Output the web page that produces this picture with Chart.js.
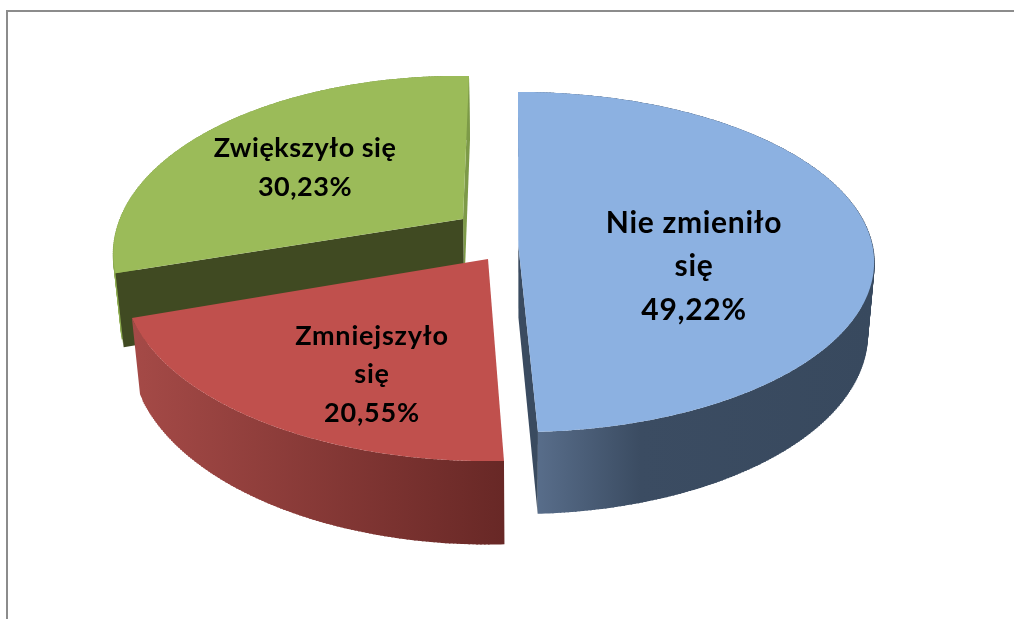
<!DOCTYPE html>
<html lang="pl">
<head>
<meta charset="utf-8">
<style>
html,body{margin:0;padding:0;background:#fff;width:1014px;height:619px;overflow:hidden}
#frame{position:absolute;left:6px;top:10px;width:1008px;height:609px;border-left:2px solid #8c8c8c;border-top:2px solid #8c8c8c;box-sizing:border-box}
canvas{position:absolute;left:0;top:0}
</style>
<script src="https://cdn.jsdelivr.net/npm/chart.js@4"></script>
</head>
<body>
<div id="frame"></div>
<canvas id="c" width="1014" height="619"></canvas>
<script>
const categories = ['Nie zmieniło się', 'Zmniejszyło się', 'Zwiększyło się'];
const values = [49.22, 20.55, 30.23];
const topColors = ['#8cb1e1', '#c0504d', '#9bbb59'];

// Projection of each exploded slice: apex, unit-circle basis vectors, perspective factor.
const projections = [
  {ax: 518.3, ay: 245, sx: 354, sy: 0,   cx: -0.35, cy: -168.4, k: 0.1},
  {ax: 488,   ay: 259, sx: 362.9, sy: 1.7, cx: 3.4,  cy: -181.9, k: 0.1},
  {ax: 463,   ay: 219, sx: 341, sy: 5,  cx: 7.2,  cy: -171.6, k: 0.2}
];
const sideGradients = [
  [[538, '#586d8a'], [640, '#3b4c62'], [873, '#38495e']],
  [[132, '#a54a47'], [504, '#682826']],
  [[112, '#8cab50'], [469, '#7d9a48']]
];
const wallColors = ['#3a4b60', null, '#404a22'];
const sliverColor = '#7d9a48';
const textStyles = [
  {x: 694, y: 223, lh: 43.5, size: 30, spacing: 0.7, wrap: true},
  {x: 372, y: 336, lh: 38.5, size: 27, spacing: 0.8, wrap: true},
  {x: 305, y: 148, lh: 39,   size: 27, spacing: 0.5, wrap: false}
];

function project(p, t) {
  const s = Math.sin(t), c = Math.cos(t), w = 1 + p.k * c;
  return {x: p.ax + (p.sx * s + p.cx * c) / w, y: p.ay + (p.sy * s + p.cy * c) / w};
}
function lower(pt) {
  const d = 74 + 0.05 * (pt.y - 273);
  return {x: pt.x + (525 - pt.x) * d / 3700, y: pt.y + d};
}
function poly(ctx, pts) {
  ctx.beginPath();
  pts.forEach((q, i) => i ? ctx.lineTo(q.x, q.y) : ctx.moveTo(q.x, q.y));
  ctx.closePath();
}
function arcPoints(p, a0, a1) {
  const n = Math.max(2, Math.ceil((a1 - a0) / 0.01)), out = [];
  for (let i = 0; i <= n; i++) out.push(project(p, a0 + (a1 - a0) * i / n));
  return out;
}
function percent(v) { return v.toFixed(2).replace('.', ',') + '%'; }

const pie3d = {
  id: 'pie3d',
  beforeDatasetsDraw(chart) {
    const ctx = chart.ctx, arcs = chart.getDatasetMeta(0).data;
    ctx.save();
    [2, 1, 0].forEach(i => {
      const p = projections[i];
      const a0 = arcs[i].startAngle + Math.PI / 2, a1 = arcs[i].endAngle + Math.PI / 2;
      const rim = arcPoints(p, a0, a1);
      const apex = {x: p.ax, y: p.ay};
      const first = rim[0], last = rim[rim.length - 1];

      // outer rim, swept from the top edge to the bottom edge
      const xs = sideGradients[i];
      const g = ctx.createLinearGradient(xs[0][0], 0, xs[xs.length - 1][0], 0);
      xs.forEach(st => g.addColorStop((st[0] - xs[0][0]) / (xs[xs.length - 1][0] - xs[0][0]), st[1]));
      ctx.fillStyle = g;
      ctx.strokeStyle = g;
      ctx.lineWidth = 1.5;
      poly(ctx, rim.concat(rim.map(lower).reverse()));
      ctx.fill();
      rim.forEach((q, n) => {
        if (n < 4 || n > rim.length - 5) return;
        const b = lower(q);
        ctx.beginPath();
        ctx.moveTo(q.x, q.y);
        ctx.lineTo(b.x, b.y);
        ctx.stroke();
      });

      // cut walls that face the viewer
      if (i === 2) {
        ctx.fillStyle = sliverColor;
        poly(ctx, [last, apex, lower(apex), lower(last)]);
        ctx.fill();
      }
      if (wallColors[i]) {
        const edge = i === 0 ? last : first;
        ctx.fillStyle = wallColors[i];
        poly(ctx, [edge, apex, lower(apex), lower(edge)]);
        ctx.fill();
      }

      // top face
      ctx.fillStyle = topColors[i];
      poly(ctx, [apex].concat(rim));
      ctx.fill();
    });

    // labels
    ctx.fillStyle = '#000';
    ctx.textAlign = 'center';
    ctx.textBaseline = 'middle';
    categories.forEach((name, i) => {
      const st = textStyles[i];
      ctx.font = '700 ' + st.size + 'px Lato, "Open Sans", sans-serif';
      ctx.letterSpacing = st.spacing + 'px';
      let lines;
      if (st.wrap) {
        const cut = name.lastIndexOf(' ');
        lines = [name.slice(0, cut), name.slice(cut + 1), percent(values[i])];
      } else {
        lines = [name, percent(values[i])];
      }
      lines.forEach((t, j) => ctx.fillText(t, st.x, st.y + j * st.lh));
    });
    ctx.restore();
    return false;
  }
};

new Chart(document.getElementById('c'), {
  type: 'pie',
  data: {labels: categories, datasets: [{data: values, backgroundColor: topColors, borderWidth: 0}]},
  options: {
    responsive: false,
    animation: false,
    rotation: 0,
    plugins: {legend: {display: false}, tooltip: {enabled: false}, title: {display: false}}
  },
  plugins: [pie3d]
});
</script>
</body>
</html>
